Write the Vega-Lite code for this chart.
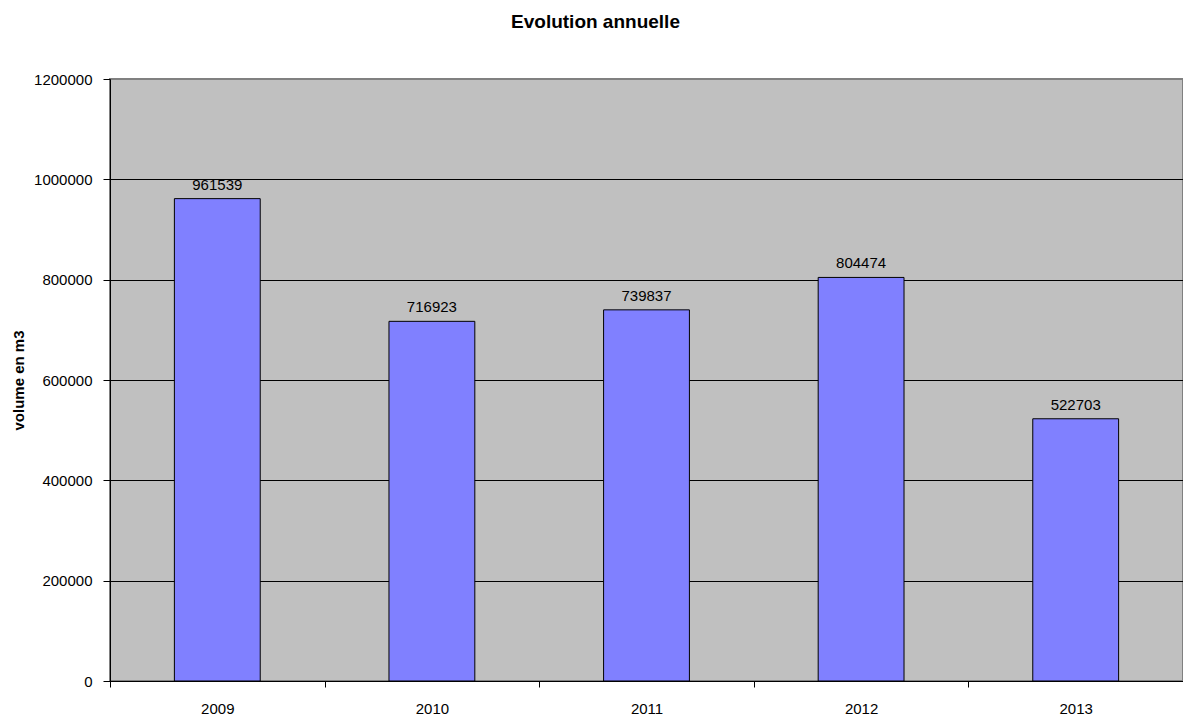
{
  "$schema": "https://vega.github.io/schema/vega-lite/v6.json",
  "autosize": {"type": "none"},
  "width": 1073,
  "height": 602,
  "padding": {"left": 110, "top": 79, "right": 0, "bottom": 36},
  "background": "white",
  "title": {
    "text": "Evolution annuelle",
    "font": "Liberation Sans",
    "fontSize": 19,
    "fontWeight": "bold",
    "color": "black",
    "anchor": "middle",
    "frame": "group",
    "baseline": "alphabetic",
    "offset": 25,
    "dx": -51
  },
  "data": {
    "values": [
      {"annee": "2009", "volume": 961539},
      {"annee": "2010", "volume": 716923},
      {"annee": "2011", "volume": 739837},
      {"annee": "2012", "volume": 804474},
      {"annee": "2013", "volume": 522703}
    ]
  },
  "encoding": {
    "x": {
      "field": "annee",
      "type": "nominal",
      "scale": {"paddingInner": 0, "paddingOuter": 0},
      "axis": {
        "title": null,
        "labelAngle": 0,
        "tickBand": "extent",
        "tickSize": 6,
        "labelPadding": 14,
        "grid": false
      }
    },
    "y": {
      "field": "volume",
      "type": "quantitative",
      "scale": {"domain": [0, 1200000], "nice": false},
      "axis": {
        "title": "volume en m3",
        "values": [0, 200000, 400000, 600000, 800000, 1000000, 1200000],
        "format": "d",
        "tickSize": 7,
        "labelPadding": 11,
        "titleFontWeight": "bold",
        "titleFontSize": 15,
        "titlePadding": 7,
        "grid": true,
        "gridColor": {"condition": {"test": "datum.value >= 1200000", "value": "#808080"}, "value": "black"},
        "gridWidth": 1,
        "gridOpacity": 1
      }
    }
  },
  "layer": [
    {
      "mark": {"type": "bar", "fill": "#8080FF", "stroke": "black", "strokeWidth": 1, "width": {"band": 0.4}}
    },
    {
      "mark": {"type": "text", "baseline": "alphabetic", "dy": -9, "font": "Liberation Sans", "fontSize": 15, "color": "black"},
      "encoding": {"text": {"field": "volume", "type": "quantitative", "format": "d"}}
    }
  ],
  "config": {
    "view": {"fill": "#C0C0C0", "stroke": "#808080", "strokeWidth": 2},
    "axis": {
      "labelFont": "Liberation Sans",
      "titleFont": "Liberation Sans",
      "labelFontSize": 15,
      "labelColor": "black",
      "titleColor": "black",
      "domainColor": "black",
      "domainWidth": 1,
      "tickColor": "black",
      "tickWidth": 1
    }
  }
}
